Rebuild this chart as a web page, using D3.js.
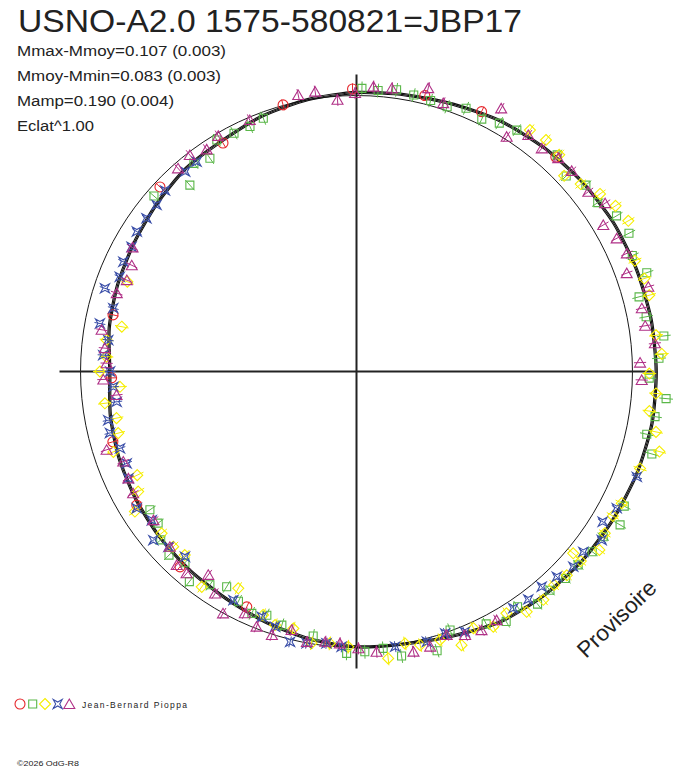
<!DOCTYPE html>
<html>
<head>
<meta charset="utf-8">
<script src="https://cdn.jsdelivr.net/npm/d3@7"></script>
<style>
  body { margin: 0; background: #fff; }
  svg { display: block; font-family: "Liberation Sans", Arial, sans-serif; }
</style>
</head>
<body>
<svg id="chart"></svg>
<script>
// Texts
const titleText = "USNO-A2.0 1575-580821=JBP17";
const statLines = [
  "Mmax-Mmoy=0.107 (0.003)",
  "Mmoy-Mmin=0.083 (0.003)",
  "Mamp=0.190 (0.004)",
  "Eclat^1.00"
];
const observer = "Jean-Bernard Pioppa";
const copyright = "\u00a92026 OdG-R8";
const stamp = "Provisoire";

// Magnitude range (relative to mean) and reference circle level
const magBright = -0.107, magFaint = 0.083;
const refMag = -0.020;

// Fitted light curve: phase (deg, clockwise from top) and delta magnitude
const fitPhase = [0, 10, 20, 30, 40, 50, 60, 70, 80, 90, 100, 110, 120, 130, 140, 150, 160, 170,
                  180, 190, 200, 210, 220, 230, 240, 250, 260, 270, 280, 290, 300, 310, 320, 330, 340, 350];
const fitMag = [-0.031, -0.038, -0.050, -0.067, -0.078, -0.088, -0.096, -0.100, -0.104, -0.106, -0.107, -0.101,
                -0.093, -0.087, -0.078, -0.066, -0.040, -0.022, -0.018, -0.004, 0.014, 0.031, 0.040, 0.048,
                0.056, 0.064, 0.074, 0.086, 0.070, 0.059, 0.049, 0.035, 0.019, 0.012, -0.007, -0.021];
const fitSpread = [-0.004, 0, 0.004];

// Observations per series: [phase deg, delta mag]
const redObs = [[13.9,-0.050],[25.7,-0.065],[42.9,-0.081],[205.0,0.039],[222.1,0.026],[238.7,0.048],
  [253.9,0.061],[268.5,0.092],[283.1,0.074],[313.2,0.003],[329.7,0.021],[344.6,-0.022],[359.2,-0.044]];

const greenObs = [[1.1,-0.046],[4.4,-0.041],[8.1,-0.051],[11.7,-0.043],[15.3,-0.038],[18.9,-0.034],
  [22.6,-0.053],[26.4,-0.041],[29.9,-0.058],[33.6,-0.070],[42.8,-0.090],[47.0,-0.059],[50.9,-0.091],
  [55.0,-0.087],[59.1,-0.118],[63.1,-0.127],[67.2,-0.104],[71.2,-0.131],[75.2,-0.079],[79.3,-0.088],
  [83.4,-0.141],[87.5,-0.117],[91.3,-0.081],[95.0,-0.146],[98.6,-0.114],[102.2,-0.096],[105.6,-0.131],
  [116.7,-0.106],[120.2,-0.125],[123.8,-0.096],[127.4,-0.095],[131.1,-0.086],[134.7,-0.086],[138.5,-0.078],
  [142.1,-0.088],[145.6,-0.053],[149.1,-0.076],[152.8,-0.048],[160.1,-0.016],[163.9,-0.073],[171.0,-0.064],
  [174.5,-0.028],[178.3,-0.036],[182.0,-0.042],[189.3,0.009],[196.4,0.022],[200.2,0.039],[203.4,0.025],
  [207.2,0.044],[211.1,0.069],[214.5,0.042],[218.5,0.007],[221.9,0.049],[225.6,0.029],[229.3,0.044],
  [232.6,0.075],[236.2,0.079],[310.9,0.009],[318.2,0.074],[322.0,0.023],[325.5,0.042],[328.9,0.000],
  [332.8,0.009],[336.5,0.012],[339.8,0.002]];

const yellowObs = [[35.7,-0.097],[39.3,-0.104],[43.1,-0.095],[46.7,-0.054],[50.1,-0.079],[53.9,-0.112],
  [57.4,-0.134],[61.0,-0.146],[68.3,-0.106],[72.1,-0.116],[75.4,-0.116],[83.1,-0.113],[86.7,-0.128],
  [90.4,-0.081],[94.2,-0.108],[97.7,-0.091],[101.4,-0.127],[104.8,-0.155],[108.9,-0.106],[116.4,-0.093],
  [119.4,-0.086],[123.1,-0.094],[126.3,-0.112],[130.0,-0.045],[130.2,-0.084],[134.1,-0.081],[137.2,-0.074],
  [140.7,-0.089],[144.7,-0.087],[148.2,-0.051],[151.8,-0.069],[155.5,-0.042],[159.0,-0.082],[162.7,-0.039],
  [166.9,-0.038],[169.9,-0.021],[173.7,-0.066],[181.7,-0.018],[185.6,-0.010],[189.4,-0.018],[193.8,0.021],
  [197.8,0.015],[201.0,0.035],[208.6,0.085],[215.7,0.019],[223.1,0.069],[226.3,0.061],[230.3,0.062],
  [237.7,0.030],[241.2,0.077],[244.7,0.101],[251.7,0.052],[255.5,0.088],[259.0,0.094],[262.8,0.061],
  [266.3,0.121],[270.0,0.050],[273.4,0.072],[277.2,0.067],[280.8,0.114],[291.4,0.088]];

const blueObs = [[110.6,-0.105],[117.7,-0.085],[121.4,-0.065],[124.5,-0.098],[128.5,-0.070],[132.0,-0.077],
  [135.7,-0.059],[139.3,-0.049],[143.0,-0.054],[146.5,-0.049],[157.4,-0.042],[161.3,-0.022],[165.4,-0.032],
  [172.0,-0.027],[183.1,-0.019],[186.3,-0.011],[190.4,-0.021],[193.8,-0.029],[197.7,0.009],[201.1,0.027],
  [208.3,0.039],[222.8,0.065],[227.0,0.048],[230.3,0.023],[234.0,0.063],[238.1,0.042],[244.9,0.067],
  [248.2,0.083],[252.0,0.079],[256.0,0.059],[258.9,0.063],[262.8,0.104],[266.4,0.097],[270.0,0.087],
  [273.7,0.060],[277.2,0.073],[280.6,0.034],[284.6,0.069],[288.3,0.020],[291.8,0.056],[295.2,0.046],
  [299.0,0.048],[302.5,0.036],[306.1,0.038],[309.8,0.037],[313.4,0.025],[319.4,0.026],[322.7,0.024]];

const magentaObs = [[3.4,-0.054],[7.1,-0.054],[14.2,-0.079],[17.9,-0.042],[28.8,-0.108],[32.6,-0.030],
  [36.0,-0.079],[39.7,-0.071],[43.4,-0.084],[47.0,-0.086],[52.2,-0.083],[55.9,-0.108],[59.3,-0.060],
  [62.9,-0.079],[66.4,-0.089],[70.0,-0.062],[73.8,-0.121],[77.5,-0.079],[81.0,-0.079],[84.6,-0.106],
  [88.2,-0.048],[91.7,-0.054],[150.6,-0.054],[154.2,-0.061],[157.6,-0.053],[161.1,-0.029],[165.0,-0.052],
  [168.5,-0.056],[175.9,-0.038],[179.6,-0.023],[183.5,-0.007],[186.6,-0.006],[190.4,-0.016],[194.1,0.014],
  [197.8,-0.023],[201.4,-0.013],[204.8,0.015],[208.9,-0.021],[212.5,0.026],[216.1,0.068],[220.1,0.024],
  [222.9,0.023],[226.8,0.052],[233.8,0.068],[241.4,0.058],[244.9,0.067],[248.9,0.074],[252.6,0.031],
  [264.4,0.106],[268.2,0.062],[271.9,0.074],[275.3,0.064],[279.3,0.044],[288.1,0.066],[291.7,0.084],
  [295.3,0.079],[299.0,0.052],[318.7,0.000],[322.4,-0.010],[326.0,0.009],[329.6,-0.010],[337.0,-0.010],
  [348.1,-0.044],[351.6,-0.045],[356.0,-0.007],[359.7,-0.029]];

const seriesNames = ["red", "green", "yellow", "blue", "magenta"];
const seriesData = [redObs, greenObs, yellowObs, blueObs, magentaObs];
const seriesErr = [0.020, 0.025, 0.025, 0.020, 0.022];

const width = 688, height = 768;
const cx = 356.5, cy = 371.5;
const axisHalf = 297;

const colors = {
  red: "#e5262b", green: "#5ab748", yellow: "#f6ee00", blue: "#3a4ea8", magenta: "#b03087"
};
const shapes = {
  red: d3.symbol(d3.symbolCircle, Math.PI * 25)(),
  green: "M-4,-4H4V4H-4Z",
  yellow: "M0,-5.5L5.5,0L0,5.5L-5.5,0Z",
  blue: "M-4.5,-4.5L0,-2L4.5,-4.5L2,0L4.5,4.5L0,2L-4.5,4.5L-2,0Z",
  magenta: "M0,-5L5.5,4.5L-5.5,4.5Z"
};

const svg = d3.select("#chart").attr("width", width).attr("height", height);

const angle = d3.scaleLinear().domain([0, 360]).range([0, 2 * Math.PI]);
const radius = d3.scaleLinear().domain([magFaint, magBright]).range([247.5, 300]);

const plot = svg.append("g").attr("transform", `translate(${cx},${cy})`);

// reference circle
plot.append("circle")
  .attr("r", radius(refMag))
  .attr("fill", "none")
  .attr("stroke", "#1a1a1a")
  .attr("stroke-width", 1);

// axes
plot.append("line").attr("x1", -axisHalf).attr("x2", axisHalf).attr("y1", 0).attr("y2", 0)
  .attr("stroke", "#222").attr("stroke-width", 2);
plot.append("line").attr("x1", 0).attr("x2", 0).attr("y1", -axisHalf).attr("y2", axisHalf)
  .attr("stroke", "#222").attr("stroke-width", 2);

// fitted curve (three close traces)
const fitPoints = fitPhase.map((p, i) => ({ p, m: fitMag[i] }));
fitSpread.forEach(off => {
  const line = d3.lineRadial()
    .angle(d => angle(d.p))
    .radius(d => radius(d.m + off))
    .curve(d3.curveCardinalClosed.tension(0.3));
  plot.append("path")
    .attr("d", line(fitPoints))
    .attr("fill", "none")
    .attr("stroke", "#111")
    .attr("stroke-width", 1.1);
});

// observations with radial error bars
seriesNames.forEach((name, si) => {
  const g = plot.append("g").attr("class", "series-" + name);
  const err = seriesErr[si];
  const pts = seriesData[si];

  g.selectAll("line").data(pts).enter().append("line")
    .each(function(d) {
      const a = d3.pointRadial(angle(d[0]), radius(d[1] - err));
      const b = d3.pointRadial(angle(d[0]), radius(d[1] + err));
      d3.select(this).attr("x1", a[0]).attr("y1", a[1]).attr("x2", b[0]).attr("y2", b[1]);
    })
    .attr("stroke", colors[name])
    .attr("stroke-width", 1);

  g.selectAll("path").data(pts).enter().append("path")
    .attr("d", shapes[name])
    .attr("transform", d => {
      const [x, y] = d3.pointRadial(angle(d[0]), radius(d[1]));
      return `translate(${x},${y})`;
    })
    .attr("fill", "none")
    .attr("stroke", colors[name])
    .attr("stroke-width", 1.1);
});

// title and stats
svg.append("text")
  .attr("x", 18).attr("y", 32)
  .attr("font-size", 30.5)
  .attr("fill", "#222")
  .attr("textLength", 504).attr("lengthAdjust", "spacingAndGlyphs")
  .text(titleText);

const statWidths = [209, 204, 157, 77];
statLines.forEach((t, i) => {
  svg.append("text")
    .attr("x", 17).attr("y", 55.5 + i * 25.1)
    .attr("font-size", 14)
    .attr("fill", "#222")
    .attr("textLength", statWidths[i]).attr("lengthAdjust", "spacingAndGlyphs")
    .text(t);
});

// legend
const legend = svg.append("g").attr("transform", "translate(0,704)");
const legendX = [20, 32.7, 45, 57.7, 69.3];
seriesNames.forEach((name, i) => {
  legend.append("path")
    .attr("d", shapes[name])
    .attr("transform", `translate(${legendX[i]},0)`)
    .attr("fill", "none")
    .attr("stroke", colors[name])
    .attr("stroke-width", 1.1);
});
legend.append("text")
  .attr("x", 82).attr("y", 4.3)
  .attr("font-size", 8.5)
  .attr("fill", "#222")
  .attr("textLength", 105).attr("lengthAdjust", "spacing")
  .text(observer);

svg.append("text")
  .attr("x", 17).attr("y", 766)
  .attr("font-size", 8)
  .attr("fill", "#222")
  .attr("textLength", 62).attr("lengthAdjust", "spacingAndGlyphs")
  .text(copyright);

svg.append("text")
  .attr("transform", "translate(586,659) rotate(-44)")
  .attr("font-size", 22.5)
  .attr("fill", "#222")
  .text(stamp);
</script>
</body>
</html>
